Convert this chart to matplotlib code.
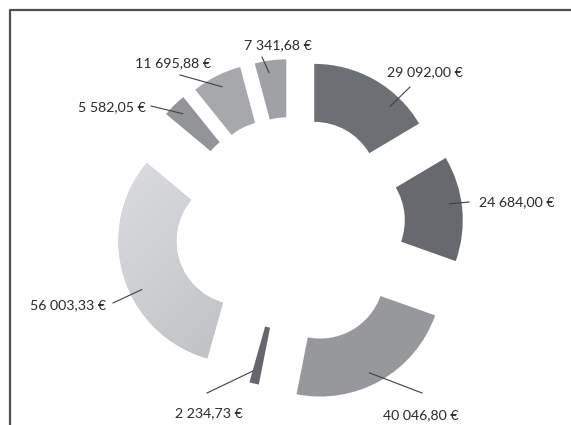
import numpy as np
import matplotlib.pyplot as plt
from matplotlib.colors import LinearSegmentedColormap

# Data: amounts in euro, clockwise from 12 o'clock
values = [29092.00, 24684.00, 40046.80, 2234.73, 56003.33, 5582.05, 11695.88, 7341.68]
labels = ['29 092,00 €', '24 684,00 €', '40 046,80 €', '2 234,73 €',
          '56 003,33 €', '5 582,05 €', '11 695,88 €', '7 341,68 €']
colors = ['#6c6f74', '#67696e', '#96989c', '#65676c',
          '#c9cbcf', '#929498', '#a6a8ac', '#9fa1a5']

# Layout (pixel units, y measured from the top of the picture)
W, H = 571, 425
center = (292, H - 225)
radius = 122
ring = 58
explode = [45, 49, 57, 41, 54, 46, 45, 44]
tip_shift = [14, -3, 3, 2, -9, 0, 0, -1.5]   # degrees, clockwise
label_pos = [(387, 72, 'left'), (479, 202, 'left'), (383, 415, 'left'),
             (175, 413, 'left'), (106, 305, 'right'), (146, 107, 'right'),
             (135, 63, 'left'), (244, 45, 'left')]
leader_start = [(410, 87), (469, 202), (422, 393), (207, 393),
                (113, 303), (151, 106), (180, 75), (262, 57)]

plt.rcParams['font.family'] = ['Lato', 'DejaVu Sans']

fig = plt.figure(figsize=(W / 100, H / 100), dpi=100)
ax = fig.add_axes([0, 0, 1, 1])

wedges, _ = ax.pie(values, radius=radius, center=center, startangle=90,
                   counterclock=False, explode=explode, colors=colors,
                   wedgeprops=dict(width=ring, linewidth=0))
ax.set_xlim(0, W)
ax.set_ylim(0, H)
ax.set_aspect('equal')
ax.axis('off')

# soft diagonal gradient on the large light segment
big = wedges[4]
grad = LinearSegmentedColormap.from_list('g', ['#dfe0e3', '#b2b5b9'])
gx, gy = np.meshgrid(np.linspace(0, 1, 200), np.linspace(0, 1, 200))
cx, cy = big.center
im = ax.imshow((gx + gy) / 2, cmap=grad, extent=(cx - radius, cx + radius, cy - radius, cy + radius),
               origin='upper', zorder=big.get_zorder() + 0.1)
im.set_clip_path(big)

# labels with leader lines pointing into each segment
for w, lab, (tx, ty, ha), (sx, sy), sh in zip(wedges, labels, label_pos, leader_start, tip_shift):
    mid = np.deg2rad((w.theta1 + w.theta2) / 2 - sh)
    r = radius - 12
    px = w.center[0] + r * np.cos(mid)
    py = w.center[1] + r * np.sin(mid)
    ax.plot([sx, px], [H - sy, py], color='#404040', lw=0.8, zorder=5)
    ax.text(tx, H - ty, lab, ha=ha, va='center', fontsize=10.2, color='#2b2b2b')

# frame of the original picture (left and top edges only)
ax.plot([10, 10, W], [0, H - 10, H - 10], color='#505050', lw=1.6, zorder=6)

fig.savefig('out.png', dpi=100)
